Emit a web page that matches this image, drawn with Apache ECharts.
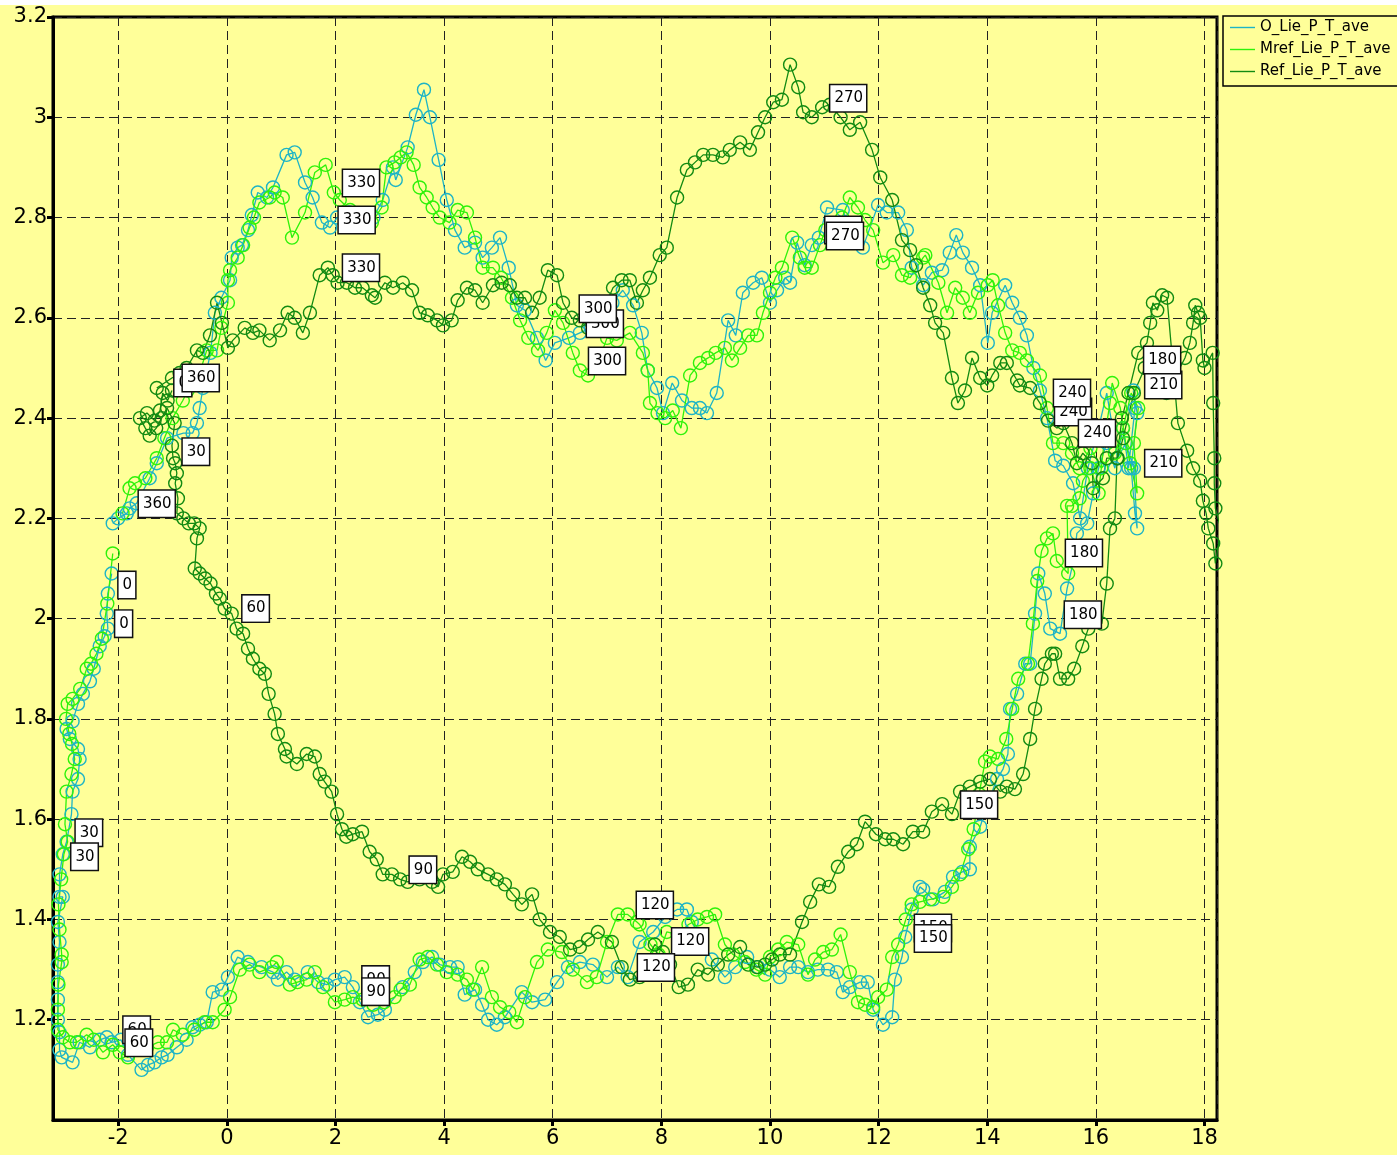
<!DOCTYPE html>
<html>
<head>
<meta charset="utf-8">
<title>Lie_P_T_ave</title>
<script src="https://cdn.jsdelivr.net/npm/echarts@6/dist/echarts.min.js"></script>
<style>
  html, body { margin: 0; padding: 0; background: #fff; }
  #chart { width: 1397px; height: 1155px; background: #ffff99; }
</style>
</head>
<body>
<div id="chart"></div>
<script>
// O_Lie_P_T_ave, in angle order 0..360
const oLie = [
  [-2.12,2.09],[-2.19,2.05],[-2.21,2.01],[-2.19,1.98],[-2.25,1.965],[-2.34,1.945],[-2.45,1.9],[-2.52,1.875],
  [-2.65,1.85],[-2.74,1.83],[-2.84,1.795],[-2.95,1.78],[-2.89,1.76],[-2.74,1.74],[-2.71,1.72],[-2.74,1.68],
  [-2.84,1.655],[-2.86,1.61],[-2.95,1.555],[-3.02,1.53],[-3.08,1.49],[-3.08,1.445],[-3.02,1.445],[-3.11,1.395],
  [-3.08,1.355],[-3.11,1.31],[-3.11,1.275],[-3.11,1.24],[-3.11,1.2],[-3.08,1.175],[-3.08,1.14],[-3.04,1.125],
  [-2.84,1.115],[-2.71,1.155],[-2.52,1.145],[-2.34,1.16],[-2.21,1.165],[-2.12,1.155],[-1.95,1.16],[-1.82,1.13],
  [-1.57,1.1],[-1.45,1.11],[-1.33,1.115],[-1.2,1.125],[-1.09,1.13],[-0.92,1.145],[-0.74,1.16],[-0.63,1.185],
  [-0.5,1.19],[-0.37,1.195],[-0.26,1.255],[-0.09,1.26],[0.02,1.285],[0.2,1.325],[0.39,1.315],[0.64,1.305],
  [0.85,1.295],[0.94,1.28],[1.1,1.295],[1.25,1.28],[1.49,1.295],[1.68,1.275],[1.84,1.27],[1.99,1.28],
  [2.17,1.285],[2.32,1.265],[2.45,1.235],[2.6,1.205],[2.78,1.21],[2.91,1.22],[3.24,1.265],[3.46,1.295],
  [3.61,1.315],[3.78,1.325],[3.92,1.31],[4.11,1.305],[4.25,1.305],[4.38,1.25],[4.57,1.26],[4.7,1.23],
  [4.81,1.2],[4.97,1.19],[5.12,1.205],[5.43,1.255],[5.62,1.235],[5.86,1.24],[6.08,1.275],[6.28,1.305],
  [6.5,1.315],[6.74,1.31],[7.0,1.285],[7.2,1.305],[7.38,1.285],[7.6,1.355],[7.85,1.375],[8.07,1.405],
  [8.29,1.42],[8.47,1.42],[8.56,1.395],[8.93,1.32],[9.17,1.285],[9.36,1.305],[9.58,1.325],[9.78,1.305],
  [10.0,1.3],[10.18,1.285],[10.37,1.305],[10.52,1.305],[10.7,1.295],[10.88,1.3],[11.07,1.3],[11.23,1.295],
  [11.34,1.255],[11.47,1.265],[11.66,1.275],[11.8,1.275],[11.9,1.22],[12.08,1.19],[12.25,1.205],[12.3,1.28],
  [12.43,1.325],[12.49,1.365],[12.61,1.42],[12.76,1.465],[12.82,1.46],[13.0,1.44],[13.22,1.455],[13.37,1.485],
  [13.54,1.495],[13.68,1.5],[13.68,1.545],[13.87,1.585],[14.0,1.63],[14.18,1.68],[14.29,1.7],[14.38,1.73],
  [14.42,1.82],[14.55,1.85],[14.7,1.91],[14.79,1.91],[14.88,2.01],[14.94,2.09],[15.06,2.05],[15.16,1.98],
  [15.34,1.97],[15.47,2.06],[15.6,2.12],[15.65,2.17],[15.84,2.19],[15.95,2.25],[16.05,2.3],[16.2,2.35],
  [16.35,2.3],[16.5,2.38],[16.6,2.3],[16.72,2.42],[16.69,2.455],[16.76,2.41],[16.65,2.3],[16.72,2.21],
  [16.76,2.18],[16.7,2.3],[16.55,2.35],[16.4,2.32],[16.2,2.45],[16.05,2.38],[15.85,2.3],[15.71,2.2],
  [15.58,2.27],[15.4,2.305],[15.25,2.315],[15.1,2.4],[14.97,2.455],[14.85,2.5],[14.73,2.565],[14.6,2.6],
  [14.46,2.63],[14.33,2.665],[14.09,2.61],[14.01,2.55],[13.87,2.665],[13.72,2.7],[13.55,2.73],[13.43,2.765],
  [13.31,2.73],[13.17,2.695],[12.98,2.69],[12.82,2.665],[12.61,2.7],[12.52,2.775],[12.36,2.81],[12.15,2.81],
  [11.99,2.825],[11.71,2.74],[11.5,2.77],[11.34,2.815],[11.05,2.82],[10.9,2.76],[10.77,2.745],[10.64,2.705],
  [10.5,2.75],[10.37,2.67],[10.28,2.68],[10.13,2.655],[10.0,2.63],[9.85,2.68],[9.69,2.67],[9.5,2.65],
  [9.37,2.565],[9.23,2.595],[9.02,2.45],[8.84,2.41],[8.71,2.42],[8.56,2.42],[8.38,2.435],[8.2,2.47],
  [8.03,2.41],[7.92,2.46],[7.75,2.495],[7.64,2.57],[7.48,2.625],[7.29,2.655],[7.1,2.63],[6.9,2.6],
  [6.7,2.58],[6.5,2.57],[6.3,2.56],[6.04,2.55],[5.87,2.515],[5.71,2.56],[5.49,2.615],[5.34,2.625],
  [5.19,2.7],[5.03,2.76],[4.88,2.74],[4.71,2.72],[4.57,2.75],[4.38,2.74],[4.2,2.775],[4.05,2.835],
  [3.9,2.915],[3.74,3.0],[3.63,3.055],[3.48,3.005],[3.33,2.94],[3.11,2.875],[3.06,2.9],[2.87,2.835],
  [2.7,2.8],[2.49,2.8],[2.25,2.81],[2.03,2.8],[1.9,2.78],[1.75,2.79],[1.58,2.84],[1.44,2.87],
  [1.25,2.93],[1.1,2.925],[0.85,2.86],[0.74,2.84],[0.57,2.85],[0.46,2.805],[0.39,2.775],[0.28,2.745],
  [0.2,2.74],[0.09,2.72],[0.06,2.675],[-0.1,2.64],[-0.22,2.61],[-0.3,2.53],[-0.44,2.46],[-0.5,2.42],
  [-0.55,2.39],[-0.63,2.37],[-0.8,2.37],[-1.1,2.36],[-1.29,2.31],[-1.42,2.28],[-1.66,2.23],[-1.79,2.22],
  [-1.84,2.21],[-2.0,2.2],[-2.1,2.19]
];

// Mref_Lie_P_T_ave
const mrefLie = [
  [-2.1,2.13],[-2.2,2.03],[-2.3,1.96],[-2.4,1.93],[-2.5,1.91],[-2.58,1.9],[-2.7,1.86],[-2.84,1.84],
  [-2.93,1.83],[-2.96,1.8],[-2.9,1.77],[-2.85,1.75],[-2.8,1.72],[-2.86,1.69],[-2.95,1.655],[-2.98,1.59],
  [-2.93,1.555],[-3.0,1.53],[-3.05,1.48],[-3.1,1.43],[-3.08,1.38],[-3.04,1.33],[-3.04,1.315],[-3.1,1.27],
  [-3.11,1.22],[-3.11,1.18],[-3.02,1.165],[-2.89,1.155],[-2.76,1.155],[-2.58,1.17],[-2.45,1.16],[-2.28,1.135],
  [-2.1,1.15],[-1.97,1.135],[-1.82,1.125],[-1.65,1.14],[-1.47,1.145],[-1.27,1.155],[-1.1,1.155],[-0.99,1.18],
  [-0.81,1.17],[-0.6,1.18],[-0.41,1.195],[-0.26,1.195],[-0.04,1.22],[0.06,1.245],[0.24,1.3],[0.42,1.31],
  [0.6,1.295],[0.83,1.305],[0.92,1.315],[1.16,1.27],[1.3,1.275],[1.47,1.28],[1.62,1.295],[1.77,1.265],
  [1.99,1.235],[2.17,1.24],[2.32,1.245],[2.5,1.24],[2.7,1.23],[2.9,1.235],[3.09,1.245],[3.2,1.26],
  [3.37,1.27],[3.55,1.32],[3.7,1.325],[3.87,1.31],[4.05,1.295],[4.25,1.29],[4.42,1.28],[4.53,1.26],
  [4.7,1.305],[4.88,1.245],[5.03,1.225],[5.2,1.215],[5.34,1.195],[5.49,1.245],[5.71,1.315],[5.91,1.34],
  [6.17,1.335],[6.37,1.3],[6.63,1.275],[6.81,1.285],[7.0,1.355],[7.2,1.41],[7.38,1.41],[7.55,1.395],
  [7.6,1.39],[7.8,1.35],[7.95,1.33],[8.1,1.375],[8.3,1.37],[8.5,1.39],[8.67,1.4],[8.84,1.405],
  [8.99,1.41],[9.17,1.35],[9.32,1.33],[9.54,1.315],[9.75,1.3],[9.91,1.29],[10.0,1.325],[10.15,1.34],
  [10.31,1.355],[10.52,1.35],[10.7,1.29],[10.83,1.32],[10.98,1.335],[11.14,1.34],[11.3,1.37],[11.47,1.295],
  [11.62,1.235],[11.75,1.23],[11.9,1.225],[11.99,1.245],[12.15,1.26],[12.25,1.325],[12.36,1.35],[12.5,1.4],
  [12.61,1.43],[12.76,1.435],[12.95,1.44],[13.19,1.445],[13.35,1.465],[13.5,1.49],[13.65,1.54],[13.75,1.58],
  [13.85,1.65],[13.96,1.715],[14.05,1.725],[14.2,1.72],[14.35,1.76],[14.46,1.82],[14.57,1.88],[14.75,1.91],
  [14.84,1.99],[14.92,2.075],[15.0,2.135],[15.1,2.16],[15.21,2.17],[15.28,2.115],[15.49,2.09],[15.47,2.225],
  [15.56,2.225],[15.7,2.24],[15.76,2.275],[15.9,2.3],[16.05,2.25],[16.17,2.37],[16.26,2.43],[16.3,2.47],
  [16.45,2.42],[16.55,2.35],[16.63,2.31],[16.76,2.25],[16.7,2.35],[16.78,2.42],[16.65,2.45],[16.5,2.38],
  [16.35,2.33],[16.1,2.3],[15.9,2.34],[15.7,2.3],[15.56,2.33],[15.4,2.35],[15.21,2.35],[15.1,2.42],
  [14.97,2.485],[14.73,2.515],[14.6,2.53],[14.46,2.535],[14.33,2.57],[14.2,2.625],[14.1,2.675],[14.01,2.665],
  [13.83,2.65],[13.68,2.61],[13.55,2.64],[13.41,2.66],[13.26,2.61],[13.1,2.67],[12.86,2.725],[12.82,2.72],
  [12.58,2.68],[12.43,2.685],[12.27,2.725],[12.08,2.71],[11.9,2.775],[11.75,2.795],[11.62,2.82],[11.47,2.84],
  [11.33,2.8],[11.15,2.78],[11.02,2.775],[10.92,2.745],[10.77,2.7],[10.64,2.7],[10.55,2.72],[10.41,2.76],
  [10.22,2.7],[10.1,2.68],[10.0,2.65],[9.87,2.61],[9.76,2.565],[9.6,2.565],[9.45,2.54],[9.3,2.515],
  [9.17,2.54],[9.0,2.53],[8.86,2.52],[8.71,2.51],[8.53,2.485],[8.36,2.38],[8.21,2.415],[8.07,2.4],
  [7.93,2.41],[7.79,2.43],[7.75,2.495],[7.66,2.53],[7.42,2.57],[7.18,2.555],[7.0,2.56],[6.8,2.5],
  [6.65,2.485],[6.5,2.495],[6.37,2.53],[6.19,2.59],[6.04,2.615],[5.89,2.57],[5.73,2.535],[5.55,2.56],
  [5.4,2.595],[5.25,2.64],[5.05,2.68],[4.9,2.7],[4.71,2.7],[4.57,2.76],[4.42,2.81],[4.25,2.815],
  [4.1,2.79],[3.92,2.8],[3.79,2.82],[3.68,2.84],[3.55,2.86],[3.44,2.905],[3.31,2.93],[3.2,2.92],
  [3.09,2.91],[2.94,2.9],[2.85,2.82],[2.67,2.79],[2.54,2.8],[2.4,2.8],[2.27,2.815],[2.08,2.835],
  [1.97,2.85],[1.82,2.905],[1.62,2.89],[1.44,2.81],[1.2,2.76],[1.03,2.84],[0.88,2.85],[0.79,2.84],
  [0.6,2.83],[0.5,2.8],[0.42,2.78],[0.3,2.745],[0.2,2.72],[0.06,2.695],[0.02,2.675],[0.02,2.63],
  [-0.1,2.58],[-0.18,2.535],[-0.37,2.535],[-0.5,2.49],[-0.72,2.455],[-0.81,2.435],[-1.0,2.4],[-1.15,2.36],
  [-1.29,2.32],[-1.5,2.28],[-1.69,2.27],[-1.79,2.26],[-1.92,2.21]
];

// Ref_Lie_P_T_ave
const refLie = [
  [-1.01,2.455],[-1.09,2.435],[-1.18,2.45],[-1.23,2.415],[-1.33,2.395],[-1.47,2.41],[-1.6,2.4],[-1.5,2.38],
  [-1.42,2.365],[-1.3,2.38],[-1.2,2.4],[-1.1,2.42],[-0.96,2.39],[-1.01,2.345],[-0.99,2.32],[-0.95,2.31],
  [-0.92,2.29],[-0.95,2.27],[-0.9,2.24],[-0.92,2.21],[-0.8,2.2],[-0.7,2.19],[-0.6,2.19],[-0.5,2.18],
  [-0.55,2.16],[-0.59,2.1],[-0.5,2.09],[-0.4,2.08],[-0.3,2.07],[-0.2,2.05],[-0.13,2.04],[-0.04,2.02],
  [0.09,2.01],[0.18,1.98],[0.3,1.97],[0.39,1.94],[0.48,1.92],[0.6,1.9],[0.7,1.89],[0.77,1.85],
  [0.88,1.81],[0.94,1.77],[1.07,1.74],[1.1,1.725],[1.29,1.71],[1.47,1.73],[1.62,1.725],[1.71,1.69],
  [1.8,1.675],[1.93,1.655],[2.03,1.61],[2.12,1.58],[2.2,1.565],[2.32,1.57],[2.49,1.575],[2.63,1.535],
  [2.76,1.52],[2.87,1.49],[3.04,1.49],[3.19,1.48],[3.33,1.475],[3.55,1.48],[3.78,1.475],[3.89,1.465],
  [3.98,1.49],[4.16,1.495],[4.33,1.525],[4.48,1.515],[4.62,1.5],[4.81,1.49],[4.97,1.48],[5.12,1.47],
  [5.27,1.45],[5.43,1.43],[5.62,1.45],[5.76,1.4],[5.95,1.375],[6.13,1.365],[6.32,1.34],[6.5,1.345],
  [6.65,1.36],[6.83,1.375],[7.09,1.355],[7.27,1.305],[7.42,1.28],[7.6,1.285],[7.7,1.31],[7.88,1.35],
  [8.03,1.335],[8.16,1.31],[8.32,1.265],[8.49,1.27],[8.67,1.3],[8.86,1.29],[9.04,1.31],[9.23,1.33],
  [9.45,1.345],[9.6,1.31],[9.76,1.305],[9.91,1.31],[10.04,1.32],[10.18,1.33],[10.37,1.33],[10.59,1.395],
  [10.74,1.435],[10.9,1.47],[11.09,1.465],[11.25,1.505],[11.44,1.535],[11.6,1.55],[11.75,1.595],[11.95,1.57],
  [12.12,1.56],[12.27,1.56],[12.45,1.55],[12.63,1.575],[12.82,1.575],[12.98,1.615],[13.17,1.63],[13.35,1.61],
  [13.5,1.655],[13.68,1.665],[13.87,1.675],[14.05,1.68],[14.24,1.655],[14.36,1.665],[14.51,1.66],[14.66,1.69],
  [14.79,1.76],[14.88,1.82],[15.0,1.88],[15.06,1.91],[15.19,1.93],[15.25,1.93],[15.34,1.88],[15.49,1.88],
  [15.6,1.9],[15.75,1.945],[15.86,1.98],[15.98,2.0],[16.11,1.99],[16.2,2.07],[16.26,2.18],[16.35,2.2],
  [16.39,2.32],[16.48,2.4],[16.6,2.45],[16.78,2.53],[16.94,2.55],[17.0,2.59],[17.05,2.63],[17.13,2.615],
  [17.22,2.645],[17.31,2.64],[17.51,2.39],[17.68,2.335],[17.79,2.3],[17.92,2.275],[17.97,2.235],[18.03,2.21],
  [18.07,2.18],[18.16,2.15],[18.2,2.11],[18.3,2.18],[18.2,2.22],[18.18,2.27],[18.18,2.32],[18.16,2.43],
  [18.15,2.53],[18.0,2.5],[17.97,2.515],[17.92,2.6],[17.88,2.61],[17.83,2.625],[17.79,2.59],[17.73,2.55],
  [17.64,2.52],[17.45,2.48],[17.3,2.45],[17.1,2.48],[16.9,2.5],[16.7,2.45],[16.5,2.36],[16.4,2.32],
  [16.2,2.32],[16.13,2.28],[15.95,2.26],[15.93,2.31],[15.76,2.33],[15.65,2.31],[15.56,2.35],[15.4,2.39],
  [15.28,2.38],[15.12,2.395],[14.97,2.43],[14.79,2.46],[14.6,2.465],[14.55,2.475],[14.36,2.51],[14.24,2.51],
  [14.09,2.485],[14.0,2.465],[13.87,2.48],[13.72,2.52],[13.59,2.455],[13.46,2.43],[13.35,2.48],[13.19,2.57],
  [13.04,2.59],[12.95,2.625],[12.82,2.66],[12.69,2.705],[12.58,2.735],[12.43,2.755],[12.25,2.835],[12.03,2.88],
  [11.88,2.935],[11.66,2.99],[11.47,2.975],[11.3,3.0],[11.1,3.025],[10.96,3.02],[10.77,3.0],[10.61,3.01],
  [10.52,3.06],[10.37,3.105],[10.22,3.035],[10.06,3.03],[9.91,3.0],[9.78,2.97],[9.63,2.935],[9.45,2.95],
  [9.26,2.935],[9.13,2.92],[8.95,2.925],[8.77,2.925],[8.62,2.91],[8.47,2.895],[8.29,2.84],[8.1,2.74],
  [7.97,2.725],[7.79,2.68],[7.66,2.655],[7.55,2.63],[7.42,2.675],[7.27,2.675],[7.11,2.66],[6.95,2.62],
  [6.8,2.6],[6.65,2.58],[6.5,2.595],[6.35,2.6],[6.19,2.63],[6.08,2.685],[5.91,2.695],[5.76,2.64],
  [5.62,2.61],[5.49,2.64],[5.34,2.64],[5.21,2.665],[5.06,2.67],[4.9,2.665],[4.71,2.63],[4.57,2.655],
  [4.42,2.66],[4.25,2.635],[4.14,2.595],[3.98,2.585],[3.87,2.595],[3.7,2.605],[3.55,2.61],[3.41,2.655],
  [3.24,2.67],[3.06,2.66],[2.91,2.67],[2.73,2.64],[2.67,2.645],[2.5,2.66],[2.36,2.66],[2.21,2.67],
  [2.04,2.67],[1.95,2.685],[1.86,2.7],[1.71,2.685],[1.53,2.61],[1.4,2.57],[1.25,2.6],[1.12,2.61],
  [0.98,2.575],[0.79,2.555],[0.6,2.575],[0.48,2.57],[0.33,2.58],[0.11,2.555],[0.02,2.54],[-0.09,2.59],
  [-0.18,2.63],[-0.31,2.565],[-0.44,2.53],[-0.55,2.535],[-0.74,2.5],[-0.87,2.49],[-1.01,2.48],[-1.29,2.46]
];

// angle marks: [x, y, angle] (later ones drawn on top)
const angleMarks = [
  [2.39,2.795,330],[2.47,2.869,330],[2.47,2.70,330],
  [6.96,2.588,300],[6.83,2.618,300],[7.0,2.514,300],
  [11.35,2.775,270],[11.38,2.763,270],[11.44,3.038,270],
  [15.58,2.412,240],[15.56,2.45,240],[16.02,2.37,240],
  [17.24,2.466,210],[17.24,2.31,210],
  [17.22,2.516,180],[15.78,2.131,180],[15.76,2.008,180],
  [13.85,1.629,150],[13.0,1.383,150],[13.0,1.362,150],
  [7.88,1.429,120],[8.53,1.356,120],[7.9,1.304,120],
  [2.74,1.28,90],[2.74,1.256,90],[3.61,1.499,90],
  [-1.66,1.18,60],[-1.62,1.154,60],[0.53,2.02,60],
  [-2.54,1.573,30],[-2.62,1.525,30],[-0.57,2.333,30],
  [-1.84,2.067,0],[-1.9,1.99,0],[-0.81,2.47,0],
  [-1.29,2.229,360],[-0.48,2.48,360]
];

const names = ["O_Lie_P_T_ave", "Mref_Lie_P_T_ave", "Ref_Lie_P_T_ave"];
const colors = ["#1db4c6", "#2ef20a", "#128a12"];

const FONT = "DejaVu Sans";

function loop(name, color, data) {
  return {
    name,
    type: "line",
    data,
    symbol: "circle",
    symbolSize: 13,
    showAllSymbol: true,
    lineStyle: { color, width: 1.3 },
    itemStyle: { color: "rgba(0,0,0,0)", borderColor: color, borderWidth: 1.4 },
    emphasis: { disabled: true },
  };
}

const chart = echarts.init(document.getElementById("chart"));
chart.setOption({
  animation: false,
  backgroundColor: "#ffff99",
  graphic: [
    { type: "rect", left: 0, top: 0, shape: { width: 1397, height: 5 }, style: { fill: "#fff" }, silent: true },
  ],
  grid: {
    left: 53, right: 180, top: 17, bottom: 35,
    show: true, borderColor: "#000", borderWidth: 3, backgroundColor: "transparent",
  },
  legend: {
    orient: "vertical",
    left: 1223, top: 16,
    padding: [4, 60, 7, 7],
    itemGap: 7,
    itemWidth: 25, itemHeight: 1.4,
    backgroundColor: "#ffff99",
    borderColor: "#000", borderWidth: 1.5,
    textStyle: { color: "#000", fontFamily: FONT, fontSize: 15 },
    data: names.map((n, i) => ({
      name: n, icon: "rect",
      itemStyle: { color: colors[i], borderWidth: 0 },
    })),
  },
  xAxis: {
    type: "value",
    min: -3.2, max: 18.23,
    minInterval: 2, maxInterval: 2,
    axisLine: { show: true, onZero: false, lineStyle: { color: "#000", width: 3 } },
    axisTick: { show: true, length: 6, lineStyle: { color: "#000", width: 3 } },
    axisLabel: { color: "#000", fontFamily: FONT, fontSize: 21, margin: 8, showMinLabel: false, showMaxLabel: false },
    splitLine: { show: true, lineStyle: { color: "#222", width: 1, type: [9, 5] } },
  },
  yAxis: {
    type: "value",
    min: 1, max: 3.2, interval: 0.2,
    axisLine: { show: true, onZero: false, lineStyle: { color: "#000", width: 3 } },
    axisTick: { show: true, length: 6, lineStyle: { color: "#000", width: 3 } },
    axisLabel: { color: "#000", fontFamily: FONT, fontSize: 21, margin: 6, showMinLabel: false },
    splitLine: { show: true, lineStyle: { color: "#222", width: 1, type: [9, 5] } },
  },
  series: [
    loop(names[0], colors[0], oLie),
    loop(names[1], colors[1], mrefLie),
    loop(names[2], colors[2], refLie),
    {
      name: "angles",
      type: "scatter",
      data: angleMarks,
      symbolSize: 1,
      itemStyle: { color: "rgba(0,0,0,0)", opacity: 1 },
      silent: true,
      z: 10,
      label: {
        show: true,
        position: "inside",
        formatter: (p) => String(p.value[2]),
        color: "#000",
        fontFamily: FONT,
        fontSize: 15,
        lineHeight: 17,
        backgroundColor: "#ffffff",
        borderColor: "#111",
        borderWidth: 1.5,
        padding: [5, 3, 4, 4],
      },
    },
  ],
});
</script>
</body>
</html>
